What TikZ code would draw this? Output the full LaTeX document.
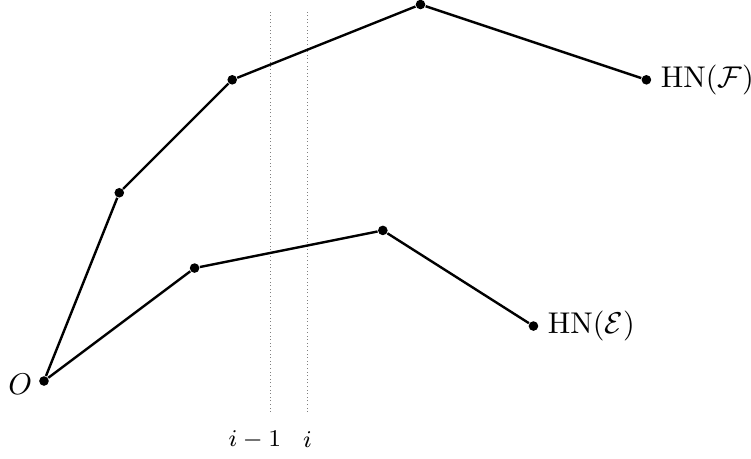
\documentclass[tikz,border=0pt]{standalone}
\usepackage{amsmath}
\usetikzlibrary{positioning}
\tikzset{
  hnpt/.style={circle, fill=black, inner sep=0pt, minimum size=3.2pt},
  hnedge/.style={thick, line join=round},
  hngrid/.style={densely dotted, very thin, draw=gray},
}
\begin{document}
\begin{tikzpicture}[
  x=25.1pt, y=25.1pt,
]
  \useasboundingbox (-0.584,-1.023) rectangle (9.389,5.06);

  % grid lines at i-1 and i
  \coordinate (g1t) at (3,4.93);   \coordinate (g1b) at (3,-0.41);
  \coordinate (g2t) at (3.5,4.93); \coordinate (g2b) at (3.5,-0.41);
  \draw[hngrid] (g1b) -- (g1t);
  \draw[hngrid] (g2b) -- (g2t);
  \node (li1) at (2.8,-0.78) {\footnotesize $i-1$};
  \node (li)  at (3.5,-0.78) {\footnotesize $i$};

  % vertices
  \node[hnpt] (o)  at (0,0)     {};
  \node[hnpt] (f1) at (1,2.5)   {};
  \node[hnpt] (f2) at (2.5,4)   {};
  \node[hnpt] (f3) at (5,5)     {};
  \node[hnpt] (f4) at (8,4)     {};
  \node[hnpt] (e1) at (2,1.5)   {};
  \node[hnpt] (e2) at (4.5,2)   {};
  \node[hnpt] (e3) at (6.5,0.73) {};

  \draw[hnedge] (o) -- (f1) -- (f2) -- (f3) -- (f4);
  \draw[hnedge] (o) -- (e1) -- (e2) -- (e3);

  \node[left=0pt of o, inner xsep=2pt, yshift=-1pt] (lo) {$O$};
  \node[right=0.3pt of f4, inner xsep=2.5pt] (lf) {$\mathrm{HN}(\mathcal{F})$};
  \node[right=0.3pt of e3, inner xsep=2.5pt] (le) {$\mathrm{HN}(\mathcal{E})$};
\end{tikzpicture}
\end{document}
